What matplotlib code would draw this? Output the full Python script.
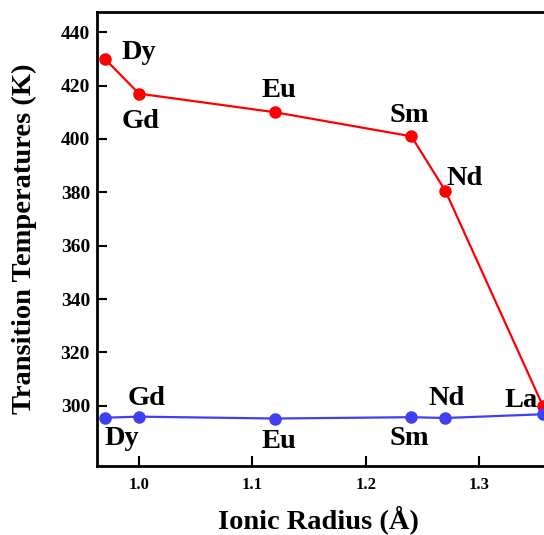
import matplotlib
matplotlib.use("Agg")
import matplotlib.pyplot as plt

plt.rcParams['font.family'] = ['Liberation Serif', 'DejaVu Serif']
plt.rcParams['font.weight'] = 'bold'

# ionic radius (A) of the rare earth ions
elements = ['Dy', 'Gd', 'Eu', 'Sm', 'Nd', 'La']
radius = [0.97, 1.00, 1.12, 1.24, 1.27, 1.356]
t_high = [430.0, 417.0, 410.0, 401.0, 380.5, 299.8]   # red series
t_low = [295.5, 295.9, 295.2, 295.7, 295.4, 296.8]     # blue series

# label anchors (left, baseline) in data units
red_lab_x = [0.985, 0.985, 1.1075, 1.221, 1.271]
red_lab_y = [430.0, 404.1, 415.7, 406.4, 382.8]
blue_lab_x = [0.970, 0.990, 1.1075, 1.221, 1.2555, 1.3216]
blue_lab_y = [285.3, 300.3, 284.1, 285.3, 300.3, 299.5]

red = '#ff0000'
blue = '#4040f2'

fig = plt.figure(figsize=(5.44, 5.35), dpi=100)
ax = fig.add_axes([97/544, 69/535, 496/544, 454/535])

ax.plot(radius, t_high, '-o', color=red, lw=1.6, ms=8)
ax.plot(radius, t_low, '-o', color=blue, lw=1.6, ms=8)

for i in range(len(red_lab_x)):
    ax.text(red_lab_x[i], red_lab_y[i], elements[i], fontsize=20.5, fontweight='bold',
            ha='left', va='baseline')
for i in range(len(blue_lab_x)):
    ax.text(blue_lab_x[i], blue_lab_y[i], elements[i], fontsize=20.5, fontweight='bold',
            ha='left', va='baseline')

ax.set_xlim(0.963, 1.40)
ax.set_ylim(277.4, 447.6)
ax.set_xticks([1.0, 1.1, 1.2, 1.3])
ax.set_xticklabels(['1.0', '1.1', '1.2', '1.3'])
ax.set_yticks([300, 320, 340, 360, 380, 400, 420, 440])

ax.tick_params(axis='both', direction='in', length=7, width=1.5)
ax.tick_params(axis='x', labelsize=12, pad=8)
ax.tick_params(axis='y', labelsize=14, pad=5)
for lab in ax.get_xticklabels() + ax.get_yticklabels():
    lab.set_fontweight('bold')
for s in ax.spines.values():
    s.set_linewidth(2)
ax.spines['right'].set_visible(False)

ax.set_xlabel('Ionic Radius (Å)', fontsize=20.5, fontweight='bold')
ax.set_ylabel('Transition Temperatures (K)', fontsize=20.5, fontweight='bold')
ax.xaxis.set_label_coords((318 - 97) / 496, -(505 - 466) / 454, transform=ax.transAxes)
ax.yaxis.set_label_coords(-(97 - 24) / 496, 0.5, transform=ax.transAxes)
ax.xaxis.label.set_va('top')
ax.yaxis.label.set_va('center')

plt.savefig('out.png', dpi=100)
